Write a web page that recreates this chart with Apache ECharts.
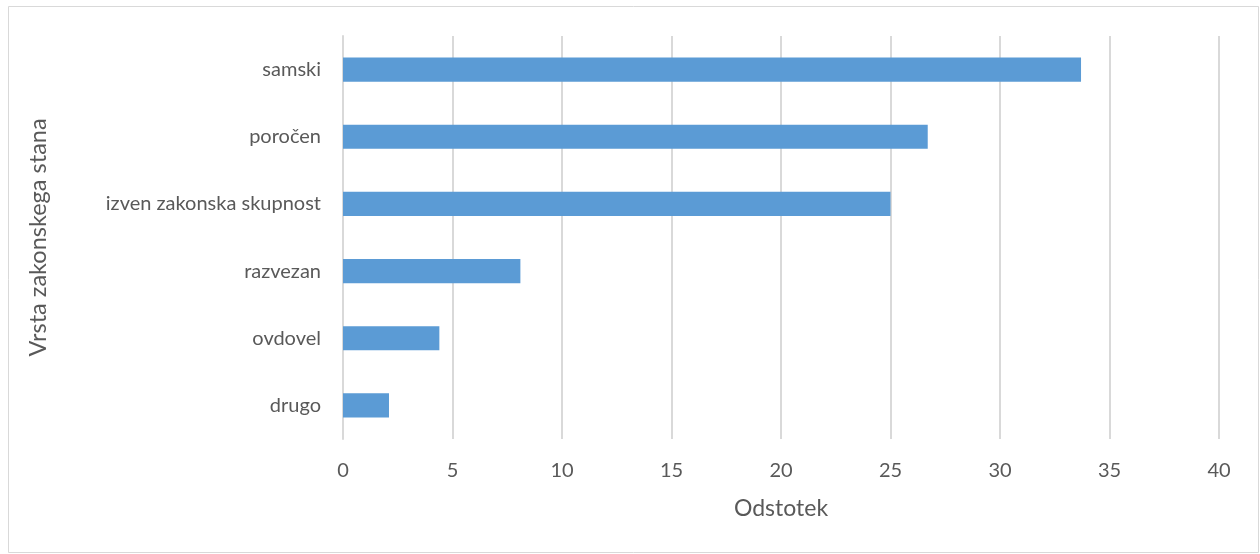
<!DOCTYPE html>
<html>
<head>
<meta charset="utf-8">
<script src="https://cdn.jsdelivr.net/npm/echarts@6/dist/echarts.min.js"></script>
<style>
  html, body { margin: 0; padding: 0; background: #ffffff; }
  #chart { width: 1260px; height: 554px; }
</style>
</head>
<body>
<div id="chart"></div>
<script>
// Marital status categories, listed bottom to top as the category axis draws them
const categories = ['drugo', 'ovdovel', 'razvezan', 'izven zakonska skupnost', 'poročen', 'samski'];
// Share of respondents (%)
const values = [2.1, 4.4, 8.1, 25.0, 26.7, 33.7];
const xTicks = { min: 0, max: 40, interval: 5 };

const textColor = '#595959';
const fontFamily = 'Lato, "Open Sans", sans-serif';

const chart = echarts.init(document.getElementById('chart'), null, { renderer: 'canvas' });
chart.setOption({
  animation: false,
  backgroundColor: '#ffffff',
  graphic: [{
    type: 'rect',
    shape: { x: 8.5, y: 6.5, width: 1250, height: 546 },
    style: { fill: 'none', stroke: '#d9d9d9', lineWidth: 1 },
    silent: true
  }],
  grid: { left: 343, right: 41, top: 36, bottom: 115, containLabel: false },
  xAxis: {
    type: 'value',
    min: xTicks.min,
    max: xTicks.max,
    interval: xTicks.interval,
    name: 'Odstotek',
    nameLocation: 'middle',
    nameGap: 58,
    nameTextStyle: { color: textColor, fontSize: 23, fontFamily },
    axisLine: { show: false },
    axisTick: { show: false },
    axisLabel: { color: textColor, fontSize: 20, fontFamily, margin: 22 },
    splitLine: { show: true, lineStyle: { color: '#d9d9d9', width: 2 } }
  },
  yAxis: {
    type: 'category',
    data: categories,
    name: 'Vrsta zakonskega stana',
    nameLocation: 'middle',
    nameGap: 293,
    nameTextStyle: { color: textColor, fontSize: 23.5, fontFamily },
    axisLine: { show: true, lineStyle: { color: '#d9d9d9', width: 2 } },
    axisTick: { show: false },
    axisLabel: { color: textColor, fontSize: 20, fontFamily, margin: 22 },
    splitLine: { show: false }
  },
  series: [{
    type: 'bar',
    data: values,
    barCategoryGap: '64%',
    itemStyle: { color: '#5b9bd5' }
  }]
});
</script>
</body>
</html>
